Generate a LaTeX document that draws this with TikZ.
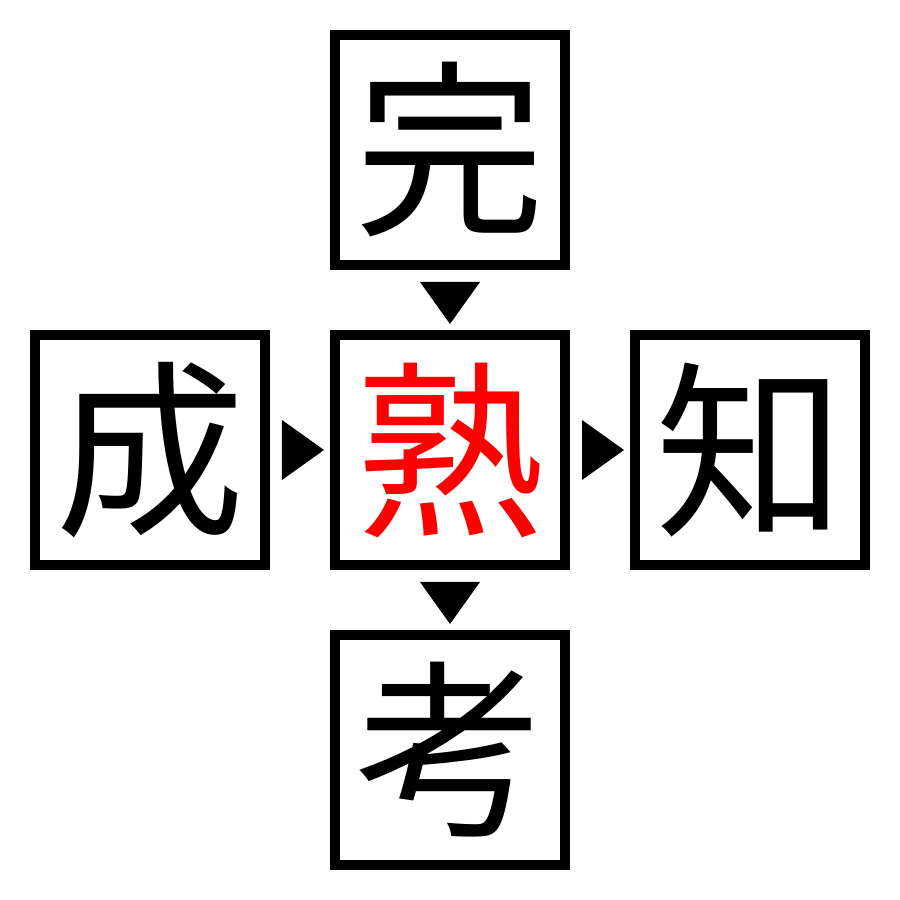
\documentclass[tikz,border=0pt]{standalone}
\usepackage{fontspec}
\usepackage{tikz}
\usetikzlibrary{positioning,calc}
\newfontfamily\jpfont{Noto Sans CJK JP}

\tikzset{
    kanji/.style={draw, line width=0.1cm, minimum size=2.3cm, inner sep=0pt,
        font=\jpfont\fontsize{54}{54}\selectfont}
}

\begin{document}
\begin{tikzpicture}
    \useasboundingbox (0,0) rectangle (9,9);

    % kanji boxes
    \node[kanji] (shu) at (4.5,4.5) {\textcolor{red}{熟}};
    \node[kanji, above=0.6cm of shu] (wan) {完};
    \node[kanji, below=0.6cm of shu] (kao) {考};
    \node[kanji, left=0.6cm of shu] (cheng) {成};
    \node[kanji, right=0.6cm of shu] (zhi) {知};

    % triangles
    \fill ($(wan.south)+(-0.3,-0.12)$) -- ($(wan.south)+(0.3,-0.12)$) -- ($(wan.south)+(0,-0.54)$) -- cycle;
    \fill ($(shu.south)+(-0.3,-0.12)$) -- ($(shu.south)+(0.3,-0.12)$) -- ($(shu.south)+(0,-0.54)$) -- cycle;
    \fill ($(cheng.east)+(0.12,0.3)$) -- ($(cheng.east)+(0.12,-0.3)$) -- ($(cheng.east)+(0.54,0)$) -- cycle;
    \fill ($(shu.east)+(0.12,0.3)$) -- ($(shu.east)+(0.12,-0.3)$) -- ($(shu.east)+(0.54,0)$) -- cycle;

\end{tikzpicture}
\end{document}
